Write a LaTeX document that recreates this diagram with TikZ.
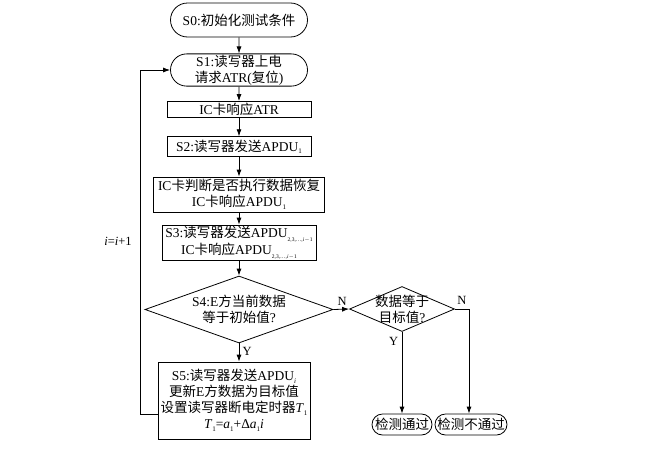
\documentclass[tikz,border=0pt]{standalone}
\usepackage{fontspec}
\setmainfont{Liberation Serif}
\newfontfamily\cjk{Noto Sans CJK SC}
\newcommand\zh[1]{{\cjk #1}}
\newcommand\subx[1]{\raisebox{-0.45ex}{\fontsize{7}{7}\selectfont #1}}
\newcommand\subs[1]{\raisebox{-0.6ex}{\fontsize{5.5}{5.5}\selectfont #1}}
\usetikzlibrary{shapes.geometric,shapes.misc,arrows.meta}
\begin{document}
\begin{tikzpicture}[x=1pt,y=-1pt,
  every node/.style={font=\fontsize{13.5}{16}\selectfont, align=center},
  ln/.style={line width=0.8pt},
  term/.style={ln, draw, rounded rectangle, inner sep=1pt},
  box/.style={ln, draw, rectangle, inner sep=1pt},
  diam/.style={ln, draw, diamond, inner sep=0pt},
  arr/.style={ln, -{Latex[length=7pt,width=5pt]}},
  lbl/.style={font=\fontsize{12.5}{12.5}\selectfont}]
\useasboundingbox (0,0) rectangle (650,450);
\node[term, minimum width=139, minimum height=34] (s0) at (239,20) {S0:\zh{初始化测试条件}};
\node[term, minimum width=139, minimum height=30] (s1) at (239,70) {S1:\zh{读写器上电}\\\zh{请求}ATR(\zh{复位})};
\node[box, minimum width=144, minimum height=16] (atr) at (239,109.5) {IC\zh{卡响应}ATR};
\node[box, minimum width=144, minimum height=20] (s2) at (239,146.7) {S2:\zh{读写器发送}APDU\subx{1}};
\node[box, minimum width=171, minimum height=35] (jd) at (239,194.5) {IC\zh{卡判断是否执行数据恢复}\\IC\zh{卡响应}APDU\subx{1}};
\node[box, minimum width=154, minimum height=35] (s3) at (239,242.5) {S3:\zh{读写器发送}APDU\subs{2,3,\ldots,\textit{i}$-$1}\\IC\zh{卡响应}APDU\subs{2,3,\ldots,\textit{i}$-$1}};
\node[diam, minimum width=188, minimum height=67] (s4) at (239,309.5) {};
\node (s4t) at (s4) {S4:E\zh{方当前数据}\\\zh{等于初始值}?};
\node[box, minimum width=152, minimum height=77] (s5) at (234,400.5) {S5:\zh{读写器发送}APDU\subx{\textit{i}}\\\zh{更新}E\zh{方数据为目标值}\\\zh{设置读写器断电定时器}\textit{T}\subx{1}\\\textit{T}\subx{1}=\textit{a}\subx{1}+Δ\textit{a}\subx{1}\textit{i}};
\node[diam, minimum width=105, minimum height=45] (d2) at (402,309) {};
\node (d2t) at (d2) {\zh{数据等于}\\\zh{目标值}?};
\node[term, minimum width=62, minimum height=21] (ok) at (402,424.5) {\zh{检测通过}};
\node[term, minimum width=74, minimum height=21] (ng) at (471,424.5) {\zh{检测不通过}};
\coordinate (lp1) at (140,414);
\coordinate (cr) at (469,309);
% main column
\draw[arr] (s0) -- (s1);
\draw[arr] (s1) -- (atr);
\draw[arr] (atr) -- (s2);
\draw[arr] (s2) -- (jd);
\draw[arr] (jd) -- (s3);
\draw[arr] (s3) -- (s4);
\draw[arr] (s4.south) -- (s4.south |- s5.north) node[lbl, pos=0.45, right] {Y};
\draw[arr] (s4.east) -- (d2.west) node[lbl, pos=0.55, above] {N};
\draw[arr] (d2.south) -- (d2.south |- ok.north) node[lbl, pos=0.12, left] {Y};
\draw[arr] (d2.east) -- (cr) -- (cr |- ng.north);
\node[lbl] (nlab) at (462,300) {N};
% loop
\draw[arr] (s5.west |- lp1) -- (lp1) -- (lp1 |- s1.west) -- (s1.west);
\node[lbl] (loop) at (118,241) {\textit{i}=\textit{i}+1};
\end{tikzpicture}
\end{document}
